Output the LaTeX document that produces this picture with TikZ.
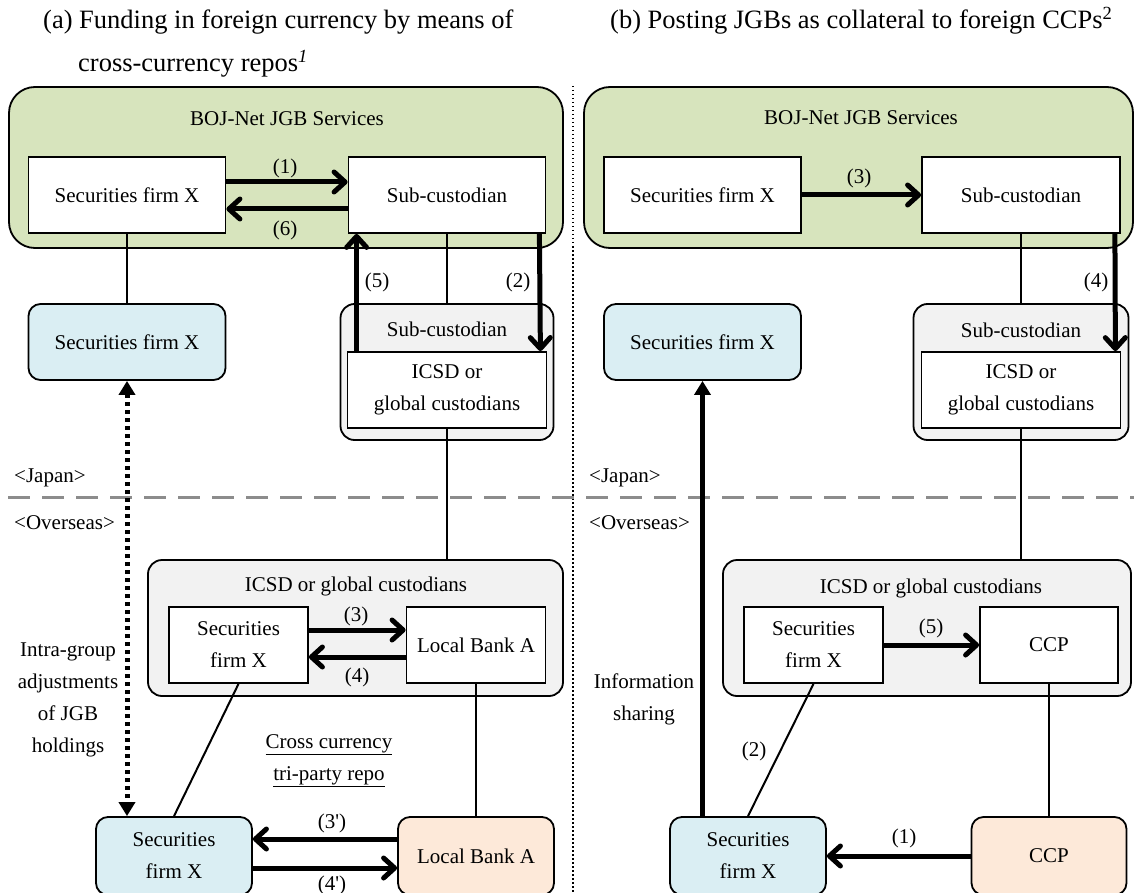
\documentclass[tikz,border=0pt]{standalone}
\usepackage{fontspec}
\setmainfont{Liberation Serif}
\usetikzlibrary{arrows.meta,calc}
\definecolor{bojgreen}{HTML}{D7E4BD}
\definecolor{firmblue}{HTML}{DAEEF3}
\definecolor{bankpeach}{HTML}{FDE9D9}
\definecolor{csdgrey}{HTML}{F2F2F2}
\definecolor{bordergrey}{HTML}{8C8C8C}
\begin{document}
\begin{tikzpicture}[x=1pt,y=-1pt,
    every node/.style={font=\fontsize{21}{32}\selectfont},
    box/.style={draw,line width=1.8pt,fill=white,inner sep=0pt,align=center,minimum height=76pt},
    firm/.style={box,rounded corners=12pt,fill=firmblue},
    bank/.style={box,rounded corners=12pt,fill=bankpeach,minimum height=78pt},
    holder/.style={draw,line width=1.8pt,rounded corners=14pt,fill=csdgrey,inner sep=0pt,minimum height=136pt},
    boj/.style={draw,line width=1.8pt,rounded corners=26pt,fill=bojgreen,inner sep=0pt,minimum height=161pt},
    link/.style={line width=2pt},
    flow/.style={line width=5pt,-{Straight Barb[length=11pt,width=20pt,round]}},
    share/.style={line width=5pt,-{Triangle[length=14pt,width=16pt]}},
    tag/.style={inner sep=1pt}]
  \useasboundingbox (0,0) rectangle (1134,893);
  % headings
  \node[anchor=base west,inner sep=0pt,font=\fontsize{26.5}{43}\selectfont] (headA) at (43,29) {(a) Funding in foreign currency by means of};
  \node[anchor=base west,inner sep=0pt,font=\fontsize{26.5}{43}\selectfont] (headA2) at (78,72) {cross-currency repos\textsuperscript{\itshape 1}};
  \node[anchor=base west,inner sep=0pt,font=\fontsize{26.5}{43}\selectfont] (headB) at (610,29) {(b) Posting JGBs as collateral to foreign CCPs\textsuperscript{2}};
  % dividers
  \draw[line width=1.5pt,dash pattern=on 1.5pt off 2.5pt] (573,86) -- (573,893);
  \draw[bordergrey,line width=3pt,dash pattern=on 22pt off 12pt] (8,497) -- (1134,497);
  \foreach \x/\s in {14/A,589/B}{
    \node[anchor=west,inner sep=0pt] (jp\s) at (\x,478) {<Japan>};
    \node[anchor=west,inner sep=0pt] (os\s) at (\x,523) {<Overseas>};
  }

  \begin{scope}
    \node[boj,minimum width=554pt] (bojA) at (286,167.5) {};
    \node (bojAt) at (287,119) {BOJ-Net JGB Services};
    \node[box,minimum width=197pt] (sfTopA) at (127,195) {Securities firm X};
    \node[box,minimum width=197pt] (scTopA) at (447,195) {Sub-custodian};
    \node[firm,minimum width=197pt] (firmJpA) at (127,342) {Securities firm X};
    \node[holder,minimum width=213pt] (subA) at (447,372) {};
    \node (subAt) at (447,329) {Sub-custodian};
    \node[box,minimum width=199pt] (gcJpA) at (447,390) {ICSD or\\global custodians};
    \node[holder,minimum width=415pt] (gcA) at (355.5,628) {};
    \node (gcAt) at (356,586) {ICSD or global custodians};
    \node[box,minimum width=139pt] (sfInA) at (238.5,645) {Securities\\firm X};
    \node[box,minimum width=139pt] (bankInA) at (476,645) {Local Bank A};
    \node[firm,minimum width=156pt,minimum height=78pt] (firmOsA) at (174,856) {Securities\\firm X};
    \node[bank,minimum width=156pt] (bankOsA) at (476,856) {Local Bank A};

    \draw[link] (sfTopA) -- (firmJpA);
    \draw[link] (scTopA) -- (subA);
    \draw[link] (gcJpA.south) -- (gcJpA.south |- gcA.north);
    \draw[link] (sfInA.south) -- (firmOsA.north);
    \draw[link] (bankInA) -- (bankOsA);
    \draw[flow] ([yshift=13pt]sfTopA.east) -- ([yshift=13pt]scTopA.west);
    \draw[flow] ([yshift=-14pt]scTopA.west) -- ([yshift=-14pt]sfTopA.east);
    \draw[flow] ([xshift=-7pt]scTopA.south east) -- ([xshift=-7pt]gcJpA.north east);
    \draw[flow] ([xshift=10pt]gcJpA.north west) -- ([xshift=9pt]scTopA.south west);
    \draw[flow] ([yshift=15pt]sfInA.east) -- ([yshift=15pt]bankInA.west);
    \draw[flow] ([yshift=-12pt]bankInA.west) -- ([yshift=-12pt]sfInA.east);
    \draw[flow] ([yshift=17pt]bankOsA.west) -- ([yshift=17pt]firmOsA.east);
    \draw[flow] ([yshift=-12pt]firmOsA.east) -- ([yshift=-12pt]bankOsA.west);
    \draw[share,{Triangle[length=14pt,width=16pt]}-{Triangle[length=14pt,width=16pt]},dash pattern=on 4pt off 4pt] (firmJpA.south) -- (firmJpA.south |- firmOsA.north);

    \node[tag] (tA1) at (285,168) {(1)};
    \node[tag] (tA6) at (285,230) {(6)};
    \node[tag] (tA5) at (377,282) {(5)};
    \node[tag] (tA2) at (518,282) {(2)};
    \node[tag] (tA3) at (356,616) {(3)};
    \node[tag] (tA4) at (357,677) {(4)};
    \node[tag] (tA3p) at (332,823) {(3\textquotesingle)};
    \node[tag] (tA4p) at (332,885) {(4\textquotesingle)};
    \node[align=center] (intra) at (68,700) {Intra-group\\adjustments\\of JGB\\holdings};
    \node[align=center] (repo) at (329,761) {\underline{Cross currency}\\\underline{tri-party repo}};
  \end{scope}

  \begin{scope}
    \node[boj,minimum width=549pt] (bojB) at (858.5,167.5) {};
    \node (bojBt) at (861,118) {BOJ-Net JGB Services};
    \node[box,minimum width=197pt] (sfTopB) at (702.5,195) {Securities firm X};
    \node[box,minimum width=198pt] (scTopB) at (1021,195) {Sub-custodian};
    \node[firm,minimum width=197pt] (firmJpB) at (702.5,342) {Securities firm X};
    \node[holder,minimum width=215pt] (subB) at (1021,372) {};
    \node (subBt) at (1021,330) {Sub-custodian};
    \node[box,minimum width=199pt] (gcJpB) at (1021,390) {ICSD or\\global custodians};
    \node[holder,minimum width=408pt] (gcB) at (927,628) {};
    \node (gcBt) at (931,588) {ICSD or global custodians};
    \node[box,minimum width=139pt] (sfInB) at (813.5,645) {Securities\\firm X};
    \node[box,minimum width=138pt] (ccpInB) at (1049,645) {CCP};
    \node[firm,minimum width=156pt,minimum height=78pt] (firmOsB) at (748,856) {Securities\\firm X};
    \node[bank,minimum width=155pt] (ccpOsB) at (1049,856) {CCP};

    \draw[link] (scTopB) -- (subB);
    \draw[link] (gcJpB.south) -- (gcJpB.south |- gcB.north);
    \draw[link] (sfInB.south) -- (firmOsB.north);
    \draw[link] (ccpInB) -- (ccpOsB);
    \draw[flow] (sfTopB) -- (scTopB);
    \draw[flow] ([xshift=-6pt]scTopB.south east) -- ([xshift=-6pt]gcJpB.north east);
    \draw[flow] (sfInB) -- (ccpInB);
    \draw[flow] (ccpOsB) -- (firmOsB);
    \draw[share] (firmJpB.south |- firmOsB.north) -- (firmJpB.south);

    \node[tag] (tB3) at (859,178) {(3)};
    \node[tag] (tB4) at (1096,282) {(4)};
    \node[tag] (tB5) at (931,628) {(5)};
    \node[tag] (tB2) at (754,751) {(2)};
    \node[tag] (tB1) at (904,838) {(1)};
    \node[align=center] (info) at (644,699) {Information\\sharing};
  \end{scope}
\end{tikzpicture}
\end{document}
